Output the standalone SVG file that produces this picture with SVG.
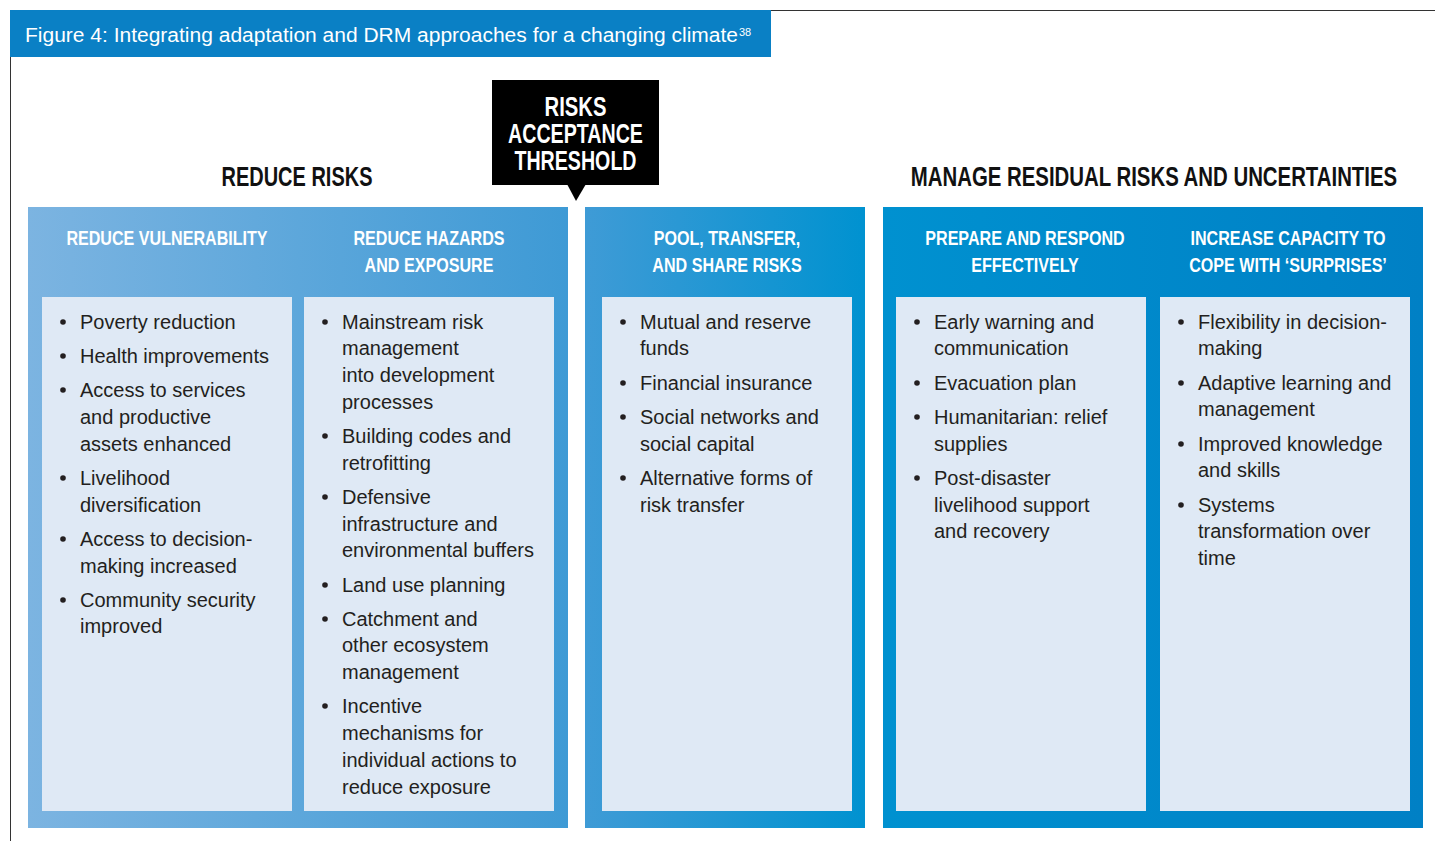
<svg xmlns="http://www.w3.org/2000/svg" width="1435" height="841" viewBox="0 0 1435 841">
<defs>
<linearGradient id="g1" x1="0" y1="0" x2="1" y2="0"><stop offset="0" stop-color="#7CB4E1"/><stop offset="1" stop-color="#3E9AD5"/></linearGradient>
<linearGradient id="g2" x1="0" y1="0" x2="1" y2="0"><stop offset="0" stop-color="#3F9BD6"/><stop offset="1" stop-color="#0092D0"/></linearGradient>
<linearGradient id="g3" x1="0" y1="0" x2="1" y2="0"><stop offset="0" stop-color="#0091D0"/><stop offset="1" stop-color="#0080C5"/></linearGradient>
<style>
.frame{stroke:#333;stroke-width:1;fill:none}
.inner{fill:#DFE9F5}
.cond{font-family:"Liberation Sans",Arial,sans-serif;font-weight:bold;text-anchor:middle}
.ph{font-size:21px;fill:#fff}
.sec{font-size:27px;fill:#111}
.blk{font-size:27px;fill:#fff}
.body{font-family:"Liberation Sans",Arial,sans-serif;font-size:20px;fill:#231F20}
.bul{fill:#231F20}
</style>
</defs>
<rect width="1435" height="841" fill="#fff"/>
<g id="frame">
<line class="frame" x1="771" y1="10.5" x2="1435" y2="10.5"/>
<line class="frame" x1="10.5" y1="57" x2="10.5" y2="841"/>
</g>
<g id="title">
<rect x="10" y="10" width="761" height="47" fill="#0A80C5"/>
<text x="25" y="42" font-family="Liberation Sans,Arial,sans-serif" font-size="20" fill="#fff" textLength="713" lengthAdjust="spacingAndGlyphs">Figure 4: Integrating adaptation and DRM approaches for a changing climate</text>
<text x="739" y="36" font-family="Liberation Sans,Arial,sans-serif" font-size="11" fill="#fff">38</text>
</g>
<g id="section-labels">
<text class="cond sec" transform="translate(297,186) scale(0.74,1)">REDUCE RISKS</text>
<text class="cond sec" transform="translate(1154,186) scale(0.755,1)">MANAGE RESIDUAL RISKS AND UNCERTAINTIES</text>
</g>
<g id="panel-reduce">
<rect x="28" y="207" width="540" height="621" fill="url(#g1)"/>
</g>
<g id="panel-pool">
<rect x="585" y="207" width="280" height="621" fill="url(#g2)"/>
</g>
<g id="panel-manage">
<rect x="883" y="207" width="540" height="621" fill="url(#g3)"/>
</g>
<g id="threshold">
<rect x="492" y="80" width="167" height="105" fill="#000"/>
<polygon points="567,184 586,184 576,201" fill="#000"/>
<text class="cond blk" transform="translate(575.5,116) scale(0.75,1)">RISKS</text>
<text class="cond blk" transform="translate(575.5,143) scale(0.727,1)">ACCEPTANCE</text>
<text class="cond blk" transform="translate(575.5,170) scale(0.727,1)">THRESHOLD</text>
</g>
<g id="reduce-vulnerability">
<text class="cond ph" transform="translate(167,245) scale(0.767,1)">REDUCE VULNERABILITY</text>
<rect class="inner" x="42" y="297" width="250" height="514"/>
<g class="body">
<circle class="bul" cx="63" cy="322" r="2.8"/><text x="80" y="329">Poverty reduction</text>
<circle class="bul" cx="63" cy="356" r="2.8"/><text x="80" y="363">Health improvements</text>
<circle class="bul" cx="63" cy="390" r="2.8"/><text x="80" y="397">Access to services</text>
<text x="80" y="424">and productive</text>
<text x="80" y="451">assets enhanced</text>
<circle class="bul" cx="63" cy="478" r="2.8"/><text x="80" y="485">Livelihood</text>
<text x="80" y="512">diversification</text>
<circle class="bul" cx="63" cy="539" r="2.8"/><text x="80" y="546">Access to decision-</text>
<text x="80" y="573">making increased</text>
<circle class="bul" cx="63" cy="600" r="2.8"/><text x="80" y="607">Community security</text>
<text x="80" y="633">improved</text>
</g>
</g>
<g id="reduce-hazards">
<text class="cond ph" transform="translate(429,245) scale(0.767,1)">REDUCE HAZARDS</text>
<text class="cond ph" transform="translate(429,272) scale(0.767,1)">AND EXPOSURE</text>
<rect class="inner" x="304" y="297" width="250" height="514"/>
<g class="body">
<circle class="bul" cx="325" cy="322" r="2.8"/><text x="342" y="329">Mainstream risk</text>
<text x="342" y="355">management</text>
<text x="342" y="382">into development</text>
<text x="342" y="409">processes</text>
<circle class="bul" cx="325" cy="436" r="2.8"/><text x="342" y="443">Building codes and</text>
<text x="342" y="470">retrofitting</text>
<circle class="bul" cx="325" cy="497" r="2.8"/><text x="342" y="504">Defensive</text>
<text x="342" y="531">infrastructure and</text>
<text x="342" y="557">environmental buffers</text>
<circle class="bul" cx="325" cy="585" r="2.8"/><text x="342" y="592">Land use planning</text>
<circle class="bul" cx="325" cy="619" r="2.8"/><text x="342" y="626">Catchment and</text>
<text x="342" y="652">other ecosystem</text>
<text x="342" y="679">management</text>
<circle class="bul" cx="325" cy="706" r="2.8"/><text x="342" y="713">Incentive</text>
<text x="342" y="740">mechanisms for</text>
<text x="342" y="767">individual actions to</text>
<text x="342" y="794">reduce exposure</text>
</g>
</g>
<g id="pool-transfer">
<text class="cond ph" transform="translate(727,245) scale(0.767,1)">POOL, TRANSFER,</text>
<text class="cond ph" transform="translate(727,272) scale(0.767,1)">AND SHARE RISKS</text>
<rect class="inner" x="602" y="297" width="250" height="514"/>
<g class="body">
<circle class="bul" cx="623" cy="322" r="2.8"/><text x="640" y="329">Mutual and reserve</text>
<text x="640" y="355">funds</text>
<circle class="bul" cx="623" cy="383" r="2.8"/><text x="640" y="390">Financial insurance</text>
<circle class="bul" cx="623" cy="417" r="2.8"/><text x="640" y="424">Social networks and</text>
<text x="640" y="451">social capital</text>
<circle class="bul" cx="623" cy="478" r="2.8"/><text x="640" y="485">Alternative forms of</text>
<text x="640" y="512">risk transfer</text>
</g>
</g>
<g id="prepare-respond">
<text class="cond ph" transform="translate(1025,245) scale(0.767,1)">PREPARE AND RESPOND</text>
<text class="cond ph" transform="translate(1025,272) scale(0.767,1)">EFFECTIVELY</text>
<rect class="inner" x="896" y="297" width="250" height="514"/>
<g class="body">
<circle class="bul" cx="917" cy="322" r="2.8"/><text x="934" y="329">Early warning and</text>
<text x="934" y="355">communication</text>
<circle class="bul" cx="917" cy="383" r="2.8"/><text x="934" y="390">Evacuation plan</text>
<circle class="bul" cx="917" cy="417" r="2.8"/><text x="934" y="424">Humanitarian: relief</text>
<text x="934" y="451">supplies</text>
<circle class="bul" cx="917" cy="478" r="2.8"/><text x="934" y="485">Post-disaster</text>
<text x="934" y="512">livelihood support</text>
<text x="934" y="538">and recovery</text>
</g>
</g>
<g id="increase-capacity">
<text class="cond ph" transform="translate(1288,245) scale(0.767,1)">INCREASE CAPACITY TO</text>
<text class="cond ph" transform="translate(1288,272) scale(0.767,1)">COPE WITH ‘SURPRISES’</text>
<rect class="inner" x="1160" y="297" width="250" height="514"/>
<g class="body">
<circle class="bul" cx="1181" cy="322" r="2.8"/><text x="1198" y="329">Flexibility in decision-</text>
<text x="1198" y="355">making</text>
<circle class="bul" cx="1181" cy="383" r="2.8"/><text x="1198" y="390">Adaptive learning and</text>
<text x="1198" y="416">management</text>
<circle class="bul" cx="1181" cy="444" r="2.8"/><text x="1198" y="451">Improved knowledge</text>
<text x="1198" y="477">and skills</text>
<circle class="bul" cx="1181" cy="505" r="2.8"/><text x="1198" y="512">Systems</text>
<text x="1198" y="538">transformation over</text>
<text x="1198" y="565">time</text>
</g>
</g>
</svg>
